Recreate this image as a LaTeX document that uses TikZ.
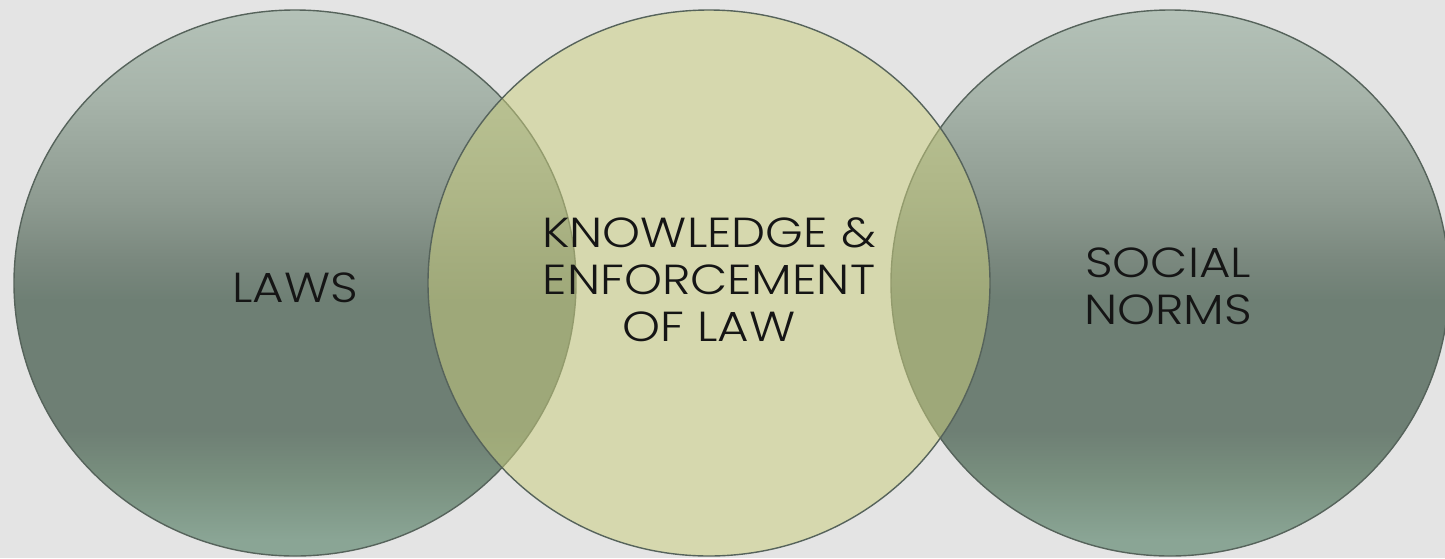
\documentclass[tikz,border=0pt]{standalone}
\usepackage{fontspec}
\setmainfont{Poppins}[UprightFont=* Light, FakeStretch=1.15]
\definecolor{bgc}{HTML}{E4E4E4}
\definecolor{gtop}{HTML}{B4C2B8}
\definecolor{gup}{HTML}{A6B3A9}
\definecolor{gmid}{HTML}{8E9B91}
\definecolor{gmid2}{HTML}{7A887E}
\definecolor{gdark}{HTML}{6E7F74}
\definecolor{glow}{HTML}{79907F}
\definecolor{gbot}{HTML}{8AA595}
\definecolor{mfill}{HTML}{CACE7E}
\definecolor{edgec}{HTML}{56635B}
\definecolor{txt}{HTML}{151515}
\pgfdeclareverticalshading{sidegrad}{100bp}{color(0bp)=(gbot); color(26.5bp)=(gbot); color(32bp)=(glow); color(36.5bp)=(gdark); color(48.4bp)=(gdark); color(52.1bp)=(gmid2); color(57.6bp)=(gmid); color(66.8bp)=(gup); color(75bp)=(gtop); color(100bp)=(gtop)}
\tikzset{
  side/.style={shading=sidegrad, draw=edgec, line width=1.4pt},
  centre/.style={fill=mfill, fill opacity=0.53, draw=edgec, line width=1.4pt, draw opacity=1},
  label/.style={text=txt, align=center, font=\fontsize{42}{47}\selectfont, inner sep=0pt}
}
\begin{document}
\begin{tikzpicture}[x=1pt,y=-1pt]
\useasboundingbox (0,0) rectangle (1445,558);
\fill[bgc] (0,0) rectangle (1445,558);
\shade[side] (295,283) ellipse [x radius=281, y radius=273];
\shade[side] (1170,283) ellipse [x radius=279, y radius=273];
\path[centre] (709,283) ellipse [x radius=281, y radius=273];
\node[label] (laws) at (295,288) {LAWS};
\node[label] (know) at (709,280) {KNOWLEDGE \&\\ENFORCEMENT\\OF LAW};
\node[label] (norms) at (1168,286) {SOCIAL\\NORMS};
\end{tikzpicture}
\end{document}
